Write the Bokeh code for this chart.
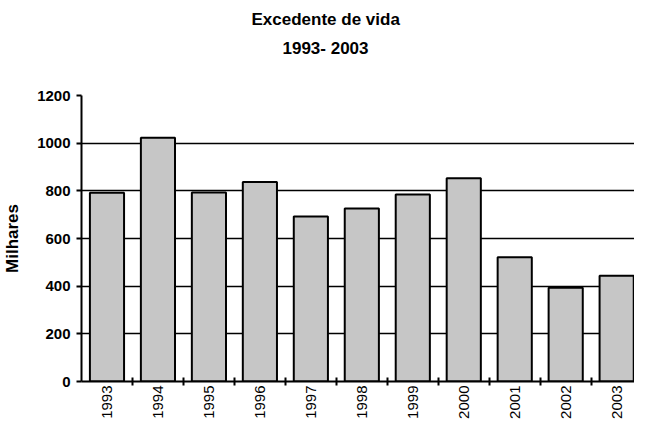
import math
from bokeh.plotting import figure
from bokeh.models import Range1d, FixedTicker, Title, NumeralTickFormatter
from bokeh.embed import file_html
from bokeh.resources import INLINE

years = [1993, 1994, 1995, 1996, 1997, 1998, 1999, 2000, 2001, 2002, 2003]
values = [792, 1023, 793, 837, 692, 726, 785, 853, 521, 393, 444]
y_ticks = [0, 200, 400, 600, 800, 1000, 1200]

FONT = "Liberation Sans"

p = figure(width=634, height=421, output_backend="svg", toolbar_location=None,
           x_range=Range1d(years[0] - 0.5, years[0] - 0.5 + 10.85),
           y_range=Range1d(0, 1200),
           min_border_left=73, min_border_right=-8, min_border_top=0, min_border_bottom=0)

p.title.text = "Excedente de vida"
p.title.align = "left"
p.title.offset = 170
p.title.text_font = FONT
p.title.text_font_size = "17px"
p.title.text_font_style = "bold"
p.title.text_color = "black"
p.title.standoff = 15
p.add_layout(Title(text=" ", text_font_size="1px", standoff=35), "above")
p.add_layout(Title(text="1993- 2003", align="left", offset=201, text_font=FONT,
                   text_color="black", text_font_size="17px", text_font_style="bold",
                   standoff=0), "above")

p.vbar(x=years, top=values, width=0.67, fill_color="#c6c6c6",
       line_color="black", line_width=2)

p.outline_line_color = None
p.background_fill_color = "white"

# grid
p.xgrid.grid_line_color = None
p.ygrid.grid_line_color = "black"
p.ygrid.grid_line_width = 1.6
p.ygrid.ticker = FixedTicker(ticks=y_ticks)

# y axis
p.yaxis.ticker = FixedTicker(ticks=y_ticks)
p.yaxis.axis_line_width = 2
p.yaxis.axis_line_color = "black"
p.yaxis.major_tick_out = 5
p.yaxis.major_tick_in = 0
p.yaxis.major_tick_line_width = 2
p.yaxis.minor_tick_line_color = None
p.yaxis.major_label_text_font = FONT
p.yaxis.major_label_text_font_size = "15px"
p.yaxis.major_label_text_font_style = "bold"
p.yaxis.major_label_text_color = "black"
p.yaxis.major_label_standoff = 6
p.yaxis.axis_label = "Milhares"
p.yaxis.axis_label_text_font = FONT
p.yaxis.axis_label_text_font_size = "17px"
p.yaxis.axis_label_text_font_style = "bold"
p.yaxis.axis_label_text_color = "black"
p.yaxis.axis_label_standoff = 12

# x axis
boundaries = [y + 0.5 for y in years[:-1]]
p.xaxis.ticker = FixedTicker(ticks=years, minor_ticks=boundaries)
p.xaxis.formatter = NumeralTickFormatter(format="0")
p.xaxis.axis_line_width = 2
p.xaxis.axis_line_color = "black"
p.xaxis.major_tick_in = 0
p.xaxis.major_tick_out = 0
p.xaxis.minor_tick_in = 4
p.xaxis.minor_tick_out = 4
p.xaxis.minor_tick_line_width = 2
p.xaxis.minor_tick_line_color = "black"
p.xaxis.major_label_orientation = math.pi / 2
p.xaxis.major_label_text_font = FONT
p.xaxis.major_label_text_font_size = "15px"
p.xaxis.major_label_text_color = "black"
p.xaxis.major_label_standoff = 0

open("out.html", "w").write(file_html(p, INLINE))
